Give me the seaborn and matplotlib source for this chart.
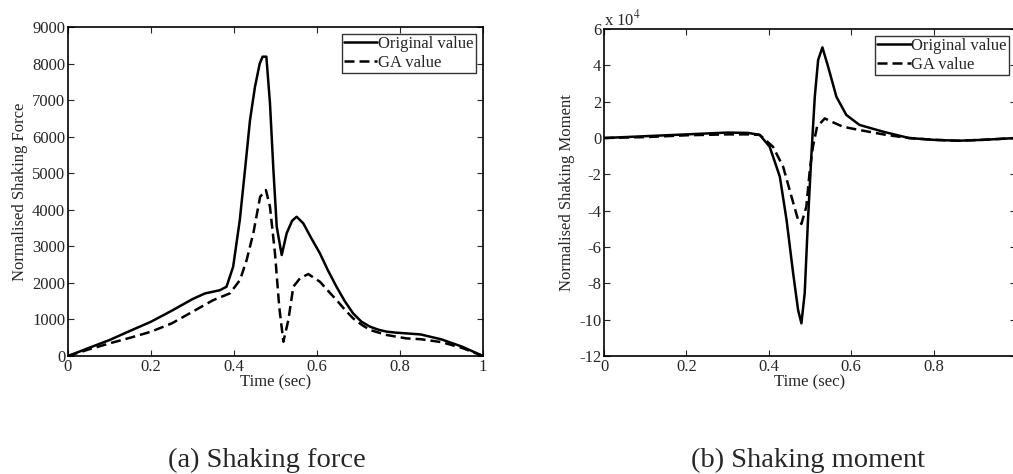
import numpy as np
import pandas as pd
import matplotlib
matplotlib.use("Agg")
import matplotlib.pyplot as plt
import seaborn as sns

# ── data ─────────────────────────────────────────────────────────────
force_t_orig = [0, 0.05, 0.1, 0.15, 0.2, 0.25, 0.3, 0.33, 0.366, 0.382, 0.398, 0.414, 0.4265,
                0.4386, 0.4506, 0.462, 0.469, 0.478, 0.4867, 0.495, 0.503, 0.515, 0.527,
                0.54, 0.551, 0.567, 0.585, 0.607, 0.627, 0.647, 0.667, 0.687, 0.707, 0.728,
                0.748, 0.768, 0.79, 0.815, 0.85, 0.9, 0.95, 1.0]
force_orig = [0, 220, 437, 690, 938, 1239, 1557, 1712, 1800, 1896, 2443, 3720, 5088,
              6455, 7366, 8000, 8190, 8190, 6920, 5088, 3537, 2763, 3360,
              3700, 3810, 3630, 3250, 2810, 2330, 1896, 1500, 1167, 940, 802,
              720, 666, 640, 620, 590, 455, 255, 0]

force_t_ga = [0, 0.05, 0.1, 0.15, 0.2, 0.25, 0.3, 0.35, 0.38, 0.39, 0.4145, 0.4305, 0.4466,
              0.463, 0.477, 0.4867, 0.4988, 0.509, 0.519, 0.531, 0.543, 0.559, 0.579,
              0.607, 0.627, 0.647, 0.667, 0.687, 0.707, 0.728, 0.768, 0.815, 0.85, 0.9,
              0.95, 1.0]
force_ga = [0, 180, 346, 500, 665, 893, 1211, 1530, 1667, 1714, 2079, 2626, 3360,
            4357, 4540, 4085, 2810, 1350, 392, 985, 1896, 2125, 2243,
            2033, 1780, 1532, 1270, 1030, 860, 711, 575, 483, 460, 380,
            220, 0]

# moment values in units of 1e4
moment_t_orig = [0, 0.1, 0.2, 0.3, 0.35, 0.378, 0.402, 0.4267, 0.443, 0.459, 0.471, 0.479,
                 0.487, 0.495, 0.5035, 0.5115, 0.5196, 0.53, 0.5438, 0.564, 0.588, 0.62,
                 0.677, 0.74, 0.8, 0.86, 0.92, 1.0]
moment_orig = [0, 0.1, 0.2, 0.3, 0.28, 0.17, -0.48, -2.13, -4.51, -7.45, -9.47, -10.2,
               -8.55, -4.51, -0.84, 2.27, 4.29, 4.99, 3.93, 2.27, 1.27, 0.72,
               0.35, 0.0, -0.1, -0.15, -0.1, 0.0]

moment_t_ga = [0, 0.1, 0.2, 0.3, 0.35, 0.378, 0.41, 0.4347, 0.455, 0.471, 0.479, 0.491,
               0.4994, 0.507, 0.517, 0.5358, 0.552, 0.58, 0.62, 0.685, 0.74, 0.8,
               0.86, 0.92, 1.0]
moment_ga = [0, 0.05, 0.15, 0.2, 0.2, 0.17, -0.48, -1.58, -3.23, -4.51, -4.73, -3.78,
             -1.76, -0.48, 0.62, 1.08, 0.9, 0.62, 0.44, 0.17, 0.0, -0.1,
             -0.15, -0.1, 0.0]

series_names = ["Original value", "GA value"]
time_ticks = [0, 0.2, 0.4, 0.6, 0.8, 1]

# ── style ────────────────────────────────────────────────────────────
sns.set_style("ticks")
plt.rcParams["font.family"] = ["Liberation Serif", "DejaVu Serif"]
plt.rcParams["mathtext.fontset"] = "stix"
plt.rcParams["axes.unicode_minus"] = False
plt.rcParams["xtick.direction"] = "in"
plt.rcParams["ytick.direction"] = "in"
plt.rcParams["axes.linewidth"] = 1.2

fig = plt.figure(figsize=(10.13, 4.74), dpi=100)
ax1 = fig.add_axes([0.0671, 0.2489, 0.4097, 0.694])
ax2 = fig.add_axes([0.5963, 0.2489, 0.4067, 0.6899])


def draw(ax, t1, y1, t2, y2):
    df = pd.concat([
        pd.DataFrame({"t": t1, "v": y1, "s": series_names[0]}),
        pd.DataFrame({"t": t2, "v": y2, "s": series_names[1]}),
    ])
    sns.lineplot(data=df, x="t", y="v", hue="s", style="s",
                 palette=["black", "black"], dashes=[(None, None), (4, 2)],
                 linewidth=1.8, ax=ax, sort=False, estimator=None)
    ax.tick_params(top=True, right=True, labelsize=12, length=4, width=0.8, pad=2)
    for sp in ax.spines.values():
        sp.set_color("black")
    leg = ax.legend(loc="upper right", fontsize=12, handlelength=2.0,
                    handletextpad=0.05, borderpad=0.15, labelspacing=0.15,
                    borderaxespad=0.4, frameon=True, fancybox=False)
    leg.get_frame().set_edgecolor("black")
    leg.get_frame().set_linewidth(1.0)
    for h in leg.get_lines():
        h.set_linewidth(1.8)


draw(ax1, force_t_orig, force_orig, force_t_ga, force_ga)
ax1.set_xlim(0, 1)
ax1.set_ylim(0, 9000)
ax1.set_xticks(time_ticks)
ax1.set_xticklabels([f"{v:g}" for v in time_ticks])
ax1.set_yticks(range(0, 9001, 1000))
ax1.set_xlabel("Time (sec)", fontsize=12, labelpad=0)
ax1.set_ylabel("Normalised Shaking Force", fontsize=12, labelpad=3)

draw(ax2, moment_t_orig, moment_orig, moment_t_ga, moment_ga)
ax2.set_xlim(0, 1)
ax2.set_ylim(-12, 6)
ax2.set_xticks(time_ticks)
# the "1" label falls off the right edge in the reference
ax2.set_xticklabels([f"{v:g}" for v in time_ticks[:-1]] + [""])
ax2.set_yticks(range(-12, 7, 2))
ax2.set_xlabel("Time (sec)", fontsize=12, labelpad=0)
ax2.set_ylabel("Normalised Shaking Moment", fontsize=12, labelpad=3)
ax2.text(0.0, 1.0, "x 10$^4$", transform=ax2.transAxes, fontsize=12,
         ha="left", va="bottom")

# sub-figure captions
fig.text(267 / 1013, 1 - 467 / 474, "(a) Shaking force", fontsize=20.5,
         ha="center", va="baseline")
fig.text(808 / 1013, 1 - 467 / 474, "(b) Shaking moment", fontsize=20.5,
         ha="center", va="baseline")

fig.savefig("out.png", dpi=100)
